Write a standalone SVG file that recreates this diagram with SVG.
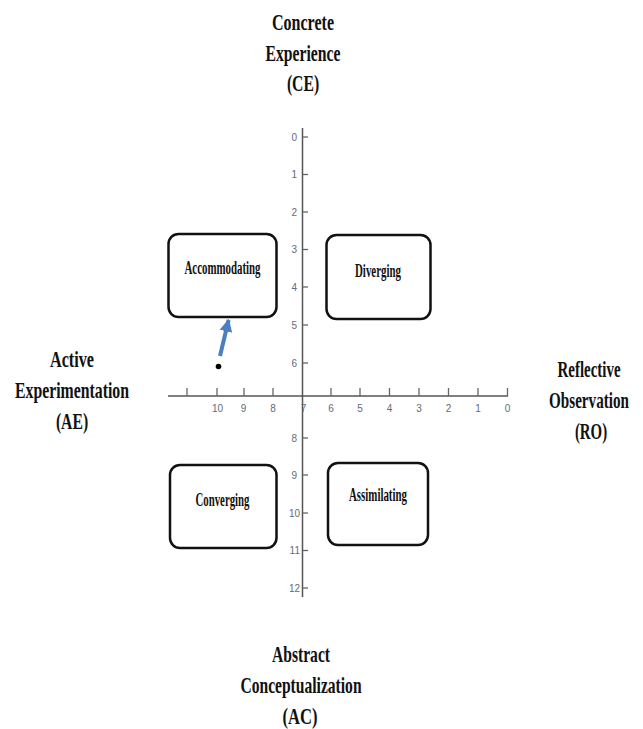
<svg xmlns="http://www.w3.org/2000/svg" width="643" height="729" viewBox="0 0 643 729">
<defs>
<style>
.lbl{font-family:"Liberation Serif","Times New Roman",serif;font-weight:bold;font-size:24px;fill:#111;text-anchor:middle}
.box{fill:#fff;stroke:#111;stroke-width:2.5}
.btx{font-family:"Liberation Serif","Times New Roman",serif;font-weight:bold;font-size:18px;fill:#111;text-anchor:middle}
.ax{stroke:#555;stroke-width:1.5;fill:none}
.tk{stroke:#666;stroke-width:1.3}
.num{font-family:"Liberation Sans",Arial,sans-serif;font-size:10px;fill:#646a78}
</style>
<marker id="ah" viewBox="0 0 10 10" refX="9" refY="5" markerWidth="3.2" markerHeight="3.6" orient="auto" markerUnits="strokeWidth">
<path d="M0,0 L10,5 L0,10 z" fill="#4a7fc1"/>
</marker>
</defs>
<rect width="643" height="729" fill="#fff"/>

<g id="labels">
<text class="lbl" transform="translate(303,30) scale(0.7,1)" textLength="88.6" lengthAdjust="spacingAndGlyphs">Concrete</text>
<text class="lbl" transform="translate(303,61) scale(0.7,1)" textLength="107" lengthAdjust="spacingAndGlyphs">Experience</text>
<text class="lbl" transform="translate(303,91) scale(0.7,1)" textLength="46" lengthAdjust="spacingAndGlyphs">(CE)</text>
<text class="lbl" transform="translate(72,367) scale(0.7,1)" textLength="63" lengthAdjust="spacingAndGlyphs">Active</text>
<text class="lbl" transform="translate(72,398) scale(0.7,1)" textLength="163" lengthAdjust="spacingAndGlyphs">Experimentation</text>
<text class="lbl" transform="translate(72,429) scale(0.7,1)" textLength="46" lengthAdjust="spacingAndGlyphs">(AE)</text>
<text class="lbl" transform="translate(589,377) scale(0.7,1)" textLength="90" lengthAdjust="spacingAndGlyphs">Reflective</text>
<text class="lbl" transform="translate(589,408) scale(0.7,1)" textLength="114" lengthAdjust="spacingAndGlyphs">Observation</text>
<text class="lbl" transform="translate(591,439) scale(0.7,1)" textLength="46" lengthAdjust="spacingAndGlyphs">(RO)</text>
<text class="lbl" transform="translate(301,662) scale(0.7,1)" textLength="83" lengthAdjust="spacingAndGlyphs">Abstract</text>
<text class="lbl" transform="translate(301,693) scale(0.7,1)" textLength="173" lengthAdjust="spacingAndGlyphs">Conceptualization</text>
<text class="lbl" transform="translate(300,724) scale(0.7,1)" textLength="50" lengthAdjust="spacingAndGlyphs">(AC)</text>
</g>

<g id="axes">
<line class="ax" x1="302.5" y1="128" x2="302.5" y2="597"/>
<line class="ax" x1="168" y1="396" x2="508" y2="396"/>
<g class="tk">
<line x1="302.5" y1="137" x2="308" y2="137"/>
<line x1="302.5" y1="174.5" x2="308" y2="174.5"/>
<line x1="302.5" y1="212" x2="308" y2="212"/>
<line x1="302.5" y1="249.5" x2="308" y2="249.5"/>
<line x1="302.5" y1="287" x2="308" y2="287"/>
<line x1="302.5" y1="325" x2="308" y2="325"/>
<line x1="302.5" y1="363" x2="308" y2="363"/>
<line x1="302.5" y1="438" x2="308" y2="438"/>
<line x1="302.5" y1="475" x2="308" y2="475"/>
<line x1="302.5" y1="513" x2="308" y2="513"/>
<line x1="302.5" y1="550.5" x2="308" y2="550.5"/>
<line x1="302.5" y1="588" x2="308" y2="588"/>
<line x1="187" y1="388" x2="187" y2="396"/>
<line x1="217" y1="388" x2="217" y2="396"/>
<line x1="244" y1="388" x2="244" y2="396"/>
<line x1="273" y1="388" x2="273" y2="396"/>
<line x1="331" y1="388" x2="331" y2="396"/>
<line x1="360" y1="388" x2="360" y2="396"/>
<line x1="389.5" y1="388" x2="389.5" y2="396"/>
<line x1="419" y1="388" x2="419" y2="396"/>
<line x1="448.5" y1="388" x2="448.5" y2="396"/>
<line x1="478" y1="388" x2="478" y2="396"/>
<line x1="507.5" y1="388" x2="507.5" y2="396"/>
</g>
<g class="num" text-anchor="end">
<text x="297" y="140.5">0</text>
<text x="297" y="178">1</text>
<text x="297" y="215.5">2</text>
<text x="297" y="253">3</text>
<text x="297" y="290.5">4</text>
<text x="297" y="328.5">5</text>
<text x="297" y="366.5">6</text>
<text x="297" y="441.5">8</text>
<text x="297" y="478.5">9</text>
<text x="300" y="516.5">10</text>
<text x="300" y="554">11</text>
<text x="300" y="591.5">12</text>
</g>
<g class="num" text-anchor="middle">
<text x="217.5" y="412">10</text>
<text x="243.5" y="412">9</text>
<text x="273" y="412">8</text>
<text x="303.5" y="412">7</text>
<text x="331" y="412">6</text>
<text x="360" y="412">5</text>
<text x="389.5" y="412">4</text>
<text x="419" y="412">3</text>
<text x="448.5" y="412">2</text>
<text x="478" y="412">1</text>
<text x="507.5" y="412">0</text>
</g>
</g>

<g id="accommodating">
<rect class="box" x="168.5" y="234" width="108" height="83" rx="10"/>
<text class="btx" x="222.5" y="274" textLength="76" lengthAdjust="spacingAndGlyphs">Accommodating</text>
</g>
<g id="diverging">
<rect class="box" x="326.5" y="235" width="104" height="84" rx="10"/>
<text class="btx" x="378" y="276.5" textLength="46" lengthAdjust="spacingAndGlyphs">Diverging</text>
</g>
<g id="converging">
<rect class="box" x="170" y="465" width="106.5" height="83" rx="10"/>
<text class="btx" x="222.5" y="506" textLength="54" lengthAdjust="spacingAndGlyphs">Converging</text>
</g>
<g id="assimilating">
<rect class="box" x="328" y="463" width="100" height="82" rx="10"/>
<text class="btx" x="378" y="501" textLength="58" lengthAdjust="spacingAndGlyphs">Assimilating</text>
</g>

<g id="connectors">
<circle cx="218.5" cy="366.5" r="2.8" fill="#000"/>
<line x1="220" y1="356" x2="228.6" y2="320" stroke="#4a7fc1" stroke-width="4" marker-end="url(#ah)"/>
</g>
</svg>
